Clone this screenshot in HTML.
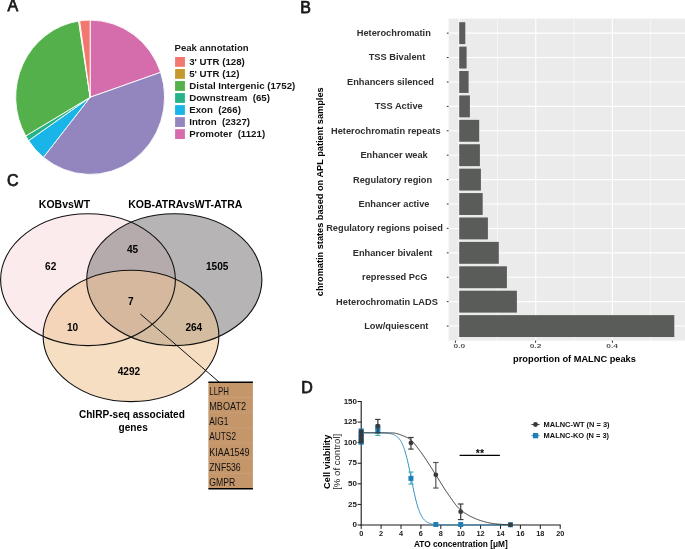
<!DOCTYPE html>
<html><head><meta charset="utf-8"><style>
html,body{margin:0;padding:0;background:#fff;width:685px;height:549px;overflow:hidden}
svg{display:block;will-change:transform}
text{font-family:"Liberation Sans",sans-serif}
</style></head><body>
<svg width="685" height="549" viewBox="0 0 685 549">
<text x="7.5" y="11.3" font-size="16" fill="#1a1a1a" stroke="#1a1a1a" stroke-width="0.75">A</text>
<text x="300.3" y="12.7" font-size="16" fill="#1a1a1a" stroke="#1a1a1a" stroke-width="0.75">B</text>
<text x="6.9" y="186.0" font-size="16" fill="#1a1a1a" stroke="#1a1a1a" stroke-width="0.75">C</text>
<text x="301.2" y="392.8" font-size="16" fill="#1a1a1a" stroke="#1a1a1a" stroke-width="0.75">D</text>
<g transform="translate(90.15,97.25) scale(74.45,77.15)">
<path d="M0 0 L0.00000 -1.00000 A1 1 0 0 1 0.94644 -0.32289 Z" fill="#D56CAB" stroke="#fff" stroke-width="0.9" vector-effect="non-scaling-stroke" stroke-linejoin="round"/>
<path d="M0 0 L0.94644 -0.32289 A1 1 0 0 1 -0.62772 0.77844 Z" fill="#9386BF" stroke="#fff" stroke-width="0.9" vector-effect="non-scaling-stroke" stroke-linejoin="round"/>
<path d="M0 0 L-0.62772 0.77844 A1 1 0 0 1 -0.82677 0.56255 Z" fill="#19B4E8" stroke="#fff" stroke-width="0.9" vector-effect="non-scaling-stroke" stroke-linejoin="round"/>
<path d="M0 0 L-0.82677 0.56255 A1 1 0 0 1 -0.86510 0.50160 Z" fill="#27B38A" stroke="#fff" stroke-width="0.9" vector-effect="non-scaling-stroke" stroke-linejoin="round"/>
<path d="M0 0 L-0.86510 0.50160 A1 1 0 0 1 -0.15449 -0.98799 Z" fill="#53B04A" stroke="#fff" stroke-width="0.9" vector-effect="non-scaling-stroke" stroke-linejoin="round"/>
<path d="M0 0 L-0.15449 -0.98799 A1 1 0 0 1 -0.14134 -0.98996 Z" fill="#C49A2E" stroke="#fff" stroke-width="0.9" vector-effect="non-scaling-stroke" stroke-linejoin="round"/>
<path d="M0 0 L-0.14134 -0.98996 A1 1 0 0 1 0.00000 -1.00000 Z" fill="#F2776E" stroke="#fff" stroke-width="0.9" vector-effect="non-scaling-stroke" stroke-linejoin="round"/>
</g>
<text x="174.5" y="51.3" font-size="9.6" font-weight="bold" fill="#1a1a1a">Peak annotation</text>
<rect x="175.1" y="57.00" width="9.8" height="9.8" fill="#F2776E"/>
<text x="189.2" y="65.10" font-size="9.7" font-weight="bold" fill="#141414">3' UTR (128)</text>
<rect x="175.1" y="69.03" width="9.8" height="9.8" fill="#C49A2E"/>
<text x="189.2" y="77.13" font-size="9.7" font-weight="bold" fill="#141414">5' UTR (12)</text>
<rect x="175.1" y="81.06" width="9.8" height="9.8" fill="#53B04A"/>
<text x="189.2" y="89.16" font-size="9.7" font-weight="bold" fill="#141414">Distal Intergenic (1752)</text>
<rect x="175.1" y="93.09" width="9.8" height="9.8" fill="#27B38A"/>
<text x="189.2" y="101.19" font-size="9.7" font-weight="bold" fill="#141414">Downstream&#160; (65)</text>
<rect x="175.1" y="105.12" width="9.8" height="9.8" fill="#19B4E8"/>
<text x="189.2" y="113.22" font-size="9.7" font-weight="bold" fill="#141414">Exon&#160; (266)</text>
<rect x="175.1" y="117.15" width="9.8" height="9.8" fill="#9386BF"/>
<text x="189.2" y="125.25" font-size="9.7" font-weight="bold" fill="#141414">Intron&#160; (2327)</text>
<rect x="175.1" y="129.18" width="9.8" height="9.8" fill="#D56CAB"/>
<text x="189.2" y="137.28" font-size="9.7" font-weight="bold" fill="#141414">Promoter&#160; (1121)</text>
<rect x="448.6" y="18.6" width="236.39999999999998" height="322.0" fill="#EBEBEB"/>
<line x1="497.48" y1="18.6" x2="497.48" y2="340.6" stroke="#fff" stroke-width="0.55"/>
<line x1="574.04" y1="18.6" x2="574.04" y2="340.6" stroke="#fff" stroke-width="0.55"/>
<line x1="650.60" y1="18.6" x2="650.60" y2="340.6" stroke="#fff" stroke-width="0.55"/>
<line x1="459.20" y1="18.6" x2="459.20" y2="340.6" stroke="#fff" stroke-width="1.1"/>
<line x1="535.76" y1="18.6" x2="535.76" y2="340.6" stroke="#fff" stroke-width="1.1"/>
<line x1="612.32" y1="18.6" x2="612.32" y2="340.6" stroke="#fff" stroke-width="1.1"/>
<line x1="448.6" y1="33.15" x2="685" y2="33.15" stroke="#fff" stroke-width="1.1"/>
<line x1="448.6" y1="57.56" x2="685" y2="57.56" stroke="#fff" stroke-width="1.1"/>
<line x1="448.6" y1="81.97" x2="685" y2="81.97" stroke="#fff" stroke-width="1.1"/>
<line x1="448.6" y1="106.38" x2="685" y2="106.38" stroke="#fff" stroke-width="1.1"/>
<line x1="448.6" y1="130.79" x2="685" y2="130.79" stroke="#fff" stroke-width="1.1"/>
<line x1="448.6" y1="155.20" x2="685" y2="155.20" stroke="#fff" stroke-width="1.1"/>
<line x1="448.6" y1="179.61" x2="685" y2="179.61" stroke="#fff" stroke-width="1.1"/>
<line x1="448.6" y1="204.02" x2="685" y2="204.02" stroke="#fff" stroke-width="1.1"/>
<line x1="448.6" y1="228.43" x2="685" y2="228.43" stroke="#fff" stroke-width="1.1"/>
<line x1="448.6" y1="252.84" x2="685" y2="252.84" stroke="#fff" stroke-width="1.1"/>
<line x1="448.6" y1="277.25" x2="685" y2="277.25" stroke="#fff" stroke-width="1.1"/>
<line x1="448.6" y1="301.66" x2="685" y2="301.66" stroke="#fff" stroke-width="1.1"/>
<line x1="448.6" y1="326.07" x2="685" y2="326.07" stroke="#fff" stroke-width="1.1"/>
<rect x="459.2" y="22.20" width="6.10" height="21.9" fill="#5A5C5A"/>
<line x1="446.8" y1="33.15" x2="448.6" y2="33.15" stroke="#333" stroke-width="1"/>
<text x="393.8" y="36.05" font-size="9.25" font-weight="bold" fill="#2e2e2e" text-anchor="middle">Heterochromatin</text>
<rect x="459.2" y="46.61" width="7.40" height="21.9" fill="#5A5C5A"/>
<line x1="446.8" y1="57.56" x2="448.6" y2="57.56" stroke="#333" stroke-width="1"/>
<text x="397.0" y="60.46" font-size="9.25" font-weight="bold" fill="#2e2e2e" text-anchor="middle">TSS Bivalent</text>
<rect x="459.2" y="71.02" width="9.40" height="21.9" fill="#5A5C5A"/>
<line x1="446.8" y1="81.97" x2="448.6" y2="81.97" stroke="#333" stroke-width="1"/>
<text x="390.5" y="84.87" font-size="9.25" font-weight="bold" fill="#2e2e2e" text-anchor="middle">Enhancers silenced</text>
<rect x="459.2" y="95.43" width="10.70" height="21.9" fill="#5A5C5A"/>
<line x1="446.8" y1="106.38" x2="448.6" y2="106.38" stroke="#333" stroke-width="1"/>
<text x="398.7" y="109.28" font-size="9.25" font-weight="bold" fill="#2e2e2e" text-anchor="middle">TSS Active</text>
<rect x="459.2" y="119.84" width="20.00" height="21.9" fill="#5A5C5A"/>
<line x1="446.8" y1="130.79" x2="448.6" y2="130.79" stroke="#333" stroke-width="1"/>
<text x="385.8" y="133.69" font-size="9.25" font-weight="bold" fill="#2e2e2e" text-anchor="middle">Heterochromatin repeats</text>
<rect x="459.2" y="144.25" width="20.70" height="21.9" fill="#5A5C5A"/>
<line x1="446.8" y1="155.20" x2="448.6" y2="155.20" stroke="#333" stroke-width="1"/>
<text x="394.1" y="158.10" font-size="9.25" font-weight="bold" fill="#2e2e2e" text-anchor="middle">Enhancer weak</text>
<rect x="459.2" y="168.66" width="21.70" height="21.9" fill="#5A5C5A"/>
<line x1="446.8" y1="179.61" x2="448.6" y2="179.61" stroke="#333" stroke-width="1"/>
<text x="392.6" y="182.51" font-size="9.25" font-weight="bold" fill="#2e2e2e" text-anchor="middle">Regulatory region</text>
<rect x="459.2" y="193.07" width="23.50" height="21.9" fill="#5A5C5A"/>
<line x1="446.8" y1="204.02" x2="448.6" y2="204.02" stroke="#333" stroke-width="1"/>
<text x="394.0" y="206.92" font-size="9.25" font-weight="bold" fill="#2e2e2e" text-anchor="middle">Enhancer active</text>
<rect x="459.2" y="217.48" width="28.70" height="21.9" fill="#5A5C5A"/>
<line x1="446.8" y1="228.43" x2="448.6" y2="228.43" stroke="#333" stroke-width="1"/>
<text x="384.5" y="231.33" font-size="9.25" font-weight="bold" fill="#2e2e2e" text-anchor="middle">Regulatory regions poised</text>
<rect x="459.2" y="241.89" width="39.60" height="21.9" fill="#5A5C5A"/>
<line x1="446.8" y1="252.84" x2="448.6" y2="252.84" stroke="#333" stroke-width="1"/>
<text x="392.6" y="255.74" font-size="9.25" font-weight="bold" fill="#2e2e2e" text-anchor="middle">Enhancer bivalent</text>
<rect x="459.2" y="266.30" width="47.70" height="21.9" fill="#5A5C5A"/>
<line x1="446.8" y1="277.25" x2="448.6" y2="277.25" stroke="#333" stroke-width="1"/>
<text x="394.7" y="280.15" font-size="9.25" font-weight="bold" fill="#2e2e2e" text-anchor="middle">repressed PcG</text>
<rect x="459.2" y="290.71" width="57.70" height="21.9" fill="#5A5C5A"/>
<line x1="446.8" y1="301.66" x2="448.6" y2="301.66" stroke="#333" stroke-width="1"/>
<text x="387.0" y="304.56" font-size="9.25" font-weight="bold" fill="#2e2e2e" text-anchor="middle">Heterochromatin LADS</text>
<rect x="459.2" y="315.12" width="215.10" height="21.9" fill="#5A5C5A"/>
<line x1="446.8" y1="326.07" x2="448.6" y2="326.07" stroke="#333" stroke-width="1"/>
<text x="396.3" y="328.97" font-size="9.25" font-weight="bold" fill="#2e2e2e" text-anchor="middle">Low/quiescent</text>
<line x1="455.4" y1="340.6" x2="455.4" y2="342.8" stroke="#333" stroke-width="1"/>
<text transform="translate(459.3,347.9) scale(1.5,1)" x="0" y="0" font-size="5.6" font-weight="bold" fill="#555" text-anchor="middle">0.0</text>
<line x1="535.6" y1="340.6" x2="535.6" y2="342.8" stroke="#333" stroke-width="1"/>
<text transform="translate(535.5,347.9) scale(1.5,1)" x="0" y="0" font-size="5.6" font-weight="bold" fill="#555" text-anchor="middle">0.2</text>
<line x1="612.4" y1="340.6" x2="612.4" y2="342.8" stroke="#333" stroke-width="1"/>
<text transform="translate(612.2,347.9) scale(1.5,1)" x="0" y="0" font-size="5.6" font-weight="bold" fill="#555" text-anchor="middle">0.4</text>
<text x="574.5" y="361.7" font-size="9.25" font-weight="bold" fill="#000" text-anchor="middle">proportion of MALNC peaks</text>
<text transform="translate(323.4,191.8) rotate(-90)" x="0" y="0" font-size="9.2" font-weight="bold" fill="#000" text-anchor="middle">chromatin states based on APL patient samples</text>
<ellipse cx="88" cy="279.7" rx="87.4" ry="65.9" fill="#FCEBEC"/>
<ellipse cx="174.3" cy="279.7" rx="87.6" ry="65.9" fill="rgb(109,105,107)" fill-opacity="0.5"/>
<ellipse cx="131" cy="335.9" rx="87.9" ry="65.7" fill="rgb(239,195,146)" fill-opacity="0.55"/>
<ellipse cx="88" cy="279.7" rx="87.4" ry="65.9" fill="none" stroke="#111" stroke-width="1.1"/>
<ellipse cx="174.3" cy="279.7" rx="87.6" ry="65.9" fill="none" stroke="#111" stroke-width="1.1"/>
<ellipse cx="131" cy="335.9" rx="87.9" ry="65.7" fill="none" stroke="#111" stroke-width="1.1"/>
<text x="64.5" y="207.7" font-size="10.5" font-weight="bold" fill="#000" text-anchor="middle">KOBvsWT</text>
<text x="185.3" y="207.7" font-size="10.5" font-weight="bold" fill="#000" text-anchor="middle">KOB-ATRAvsWT-ATRA</text>
<text x="50.7" y="269.9" font-size="10.1" font-weight="bold" fill="#000" text-anchor="middle">62</text>
<text x="132.6" y="252.8" font-size="10.1" font-weight="bold" fill="#000" text-anchor="middle">45</text>
<text x="217.2" y="269.9" font-size="10.1" font-weight="bold" fill="#000" text-anchor="middle">1505</text>
<text x="130.9" y="304.9" font-size="10.1" font-weight="bold" fill="#000" text-anchor="middle">7</text>
<text x="72.6" y="331.3" font-size="10.1" font-weight="bold" fill="#000" text-anchor="middle">10</text>
<text x="193.8" y="331.3" font-size="10.1" font-weight="bold" fill="#000" text-anchor="middle">264</text>
<text x="128.9" y="375.1" font-size="10.1" font-weight="bold" fill="#000" text-anchor="middle">4292</text>
<text x="131.9" y="417.8" font-size="10.1" font-weight="bold" fill="#000" text-anchor="middle">ChIRP-seq associated</text>
<text x="133.2" y="430.6" font-size="10.1" font-weight="bold" fill="#000" text-anchor="middle">genes</text>
<line x1="140.4" y1="314" x2="219" y2="382" stroke="#111" stroke-width="1.0"/>
<rect x="208.4" y="382" width="44.5" height="107" fill="#C4966A"/>
<line x1="208.4" y1="397.55" x2="252.9" y2="397.55" stroke="#CCA27A" stroke-width="0.8"/>
<line x1="208.4" y1="412.70" x2="252.9" y2="412.70" stroke="#CCA27A" stroke-width="0.8"/>
<line x1="208.4" y1="427.85" x2="252.9" y2="427.85" stroke="#CCA27A" stroke-width="0.8"/>
<line x1="208.4" y1="443.00" x2="252.9" y2="443.00" stroke="#CCA27A" stroke-width="0.8"/>
<line x1="208.4" y1="458.15" x2="252.9" y2="458.15" stroke="#CCA27A" stroke-width="0.8"/>
<line x1="208.4" y1="473.30" x2="252.9" y2="473.30" stroke="#CCA27A" stroke-width="0.8"/>
<line x1="208.4" y1="382.2" x2="252.9" y2="382.2" stroke="#000" stroke-width="1.6"/>
<line x1="208.4" y1="488.8" x2="252.9" y2="488.8" stroke="#000" stroke-width="1.6"/>
<text x="209.3" y="394.80" font-size="10.4" fill="#111" textLength="19.6" lengthAdjust="spacingAndGlyphs">LLPH</text>
<text x="209.3" y="409.98" font-size="10.4" fill="#111" textLength="36.7" lengthAdjust="spacingAndGlyphs">MBOAT2</text>
<text x="209.3" y="425.16" font-size="10.4" fill="#111" textLength="19.0" lengthAdjust="spacingAndGlyphs">AIG1</text>
<text x="209.3" y="440.34" font-size="10.4" fill="#111" textLength="26.7" lengthAdjust="spacingAndGlyphs">AUTS2</text>
<text x="209.3" y="455.52" font-size="10.4" fill="#111" textLength="40.2" lengthAdjust="spacingAndGlyphs">KIAA1549</text>
<text x="209.3" y="470.70" font-size="10.4" fill="#111" textLength="31.4" lengthAdjust="spacingAndGlyphs">ZNF536</text>
<text x="209.3" y="485.88" font-size="10.4" fill="#111" textLength="26.0" lengthAdjust="spacingAndGlyphs">GMPR</text>
<line x1="361.2" y1="401.00" x2="361.2" y2="525.6" stroke="#1a1a1a" stroke-width="1.1"/>
<line x1="360.7" y1="525.0" x2="560.70" y2="525.0" stroke="#1a1a1a" stroke-width="1.2"/>
<line x1="357.60" y1="525.00" x2="361.2" y2="525.00" stroke="#1a1a1a" stroke-width="1.0"/>
<text x="357.0" y="527.20" font-size="8" font-weight="bold" fill="#1a1a1a" text-anchor="end">0</text>
<line x1="357.60" y1="504.42" x2="361.2" y2="504.42" stroke="#1a1a1a" stroke-width="1.0"/>
<text x="357.0" y="506.62" font-size="8" font-weight="bold" fill="#1a1a1a" text-anchor="end">25</text>
<line x1="357.60" y1="483.83" x2="361.2" y2="483.83" stroke="#1a1a1a" stroke-width="1.0"/>
<text x="357.0" y="486.03" font-size="8" font-weight="bold" fill="#1a1a1a" text-anchor="end">50</text>
<line x1="357.60" y1="463.25" x2="361.2" y2="463.25" stroke="#1a1a1a" stroke-width="1.0"/>
<text x="357.0" y="465.45" font-size="8" font-weight="bold" fill="#1a1a1a" text-anchor="end">75</text>
<line x1="357.60" y1="442.67" x2="361.2" y2="442.67" stroke="#1a1a1a" stroke-width="1.0"/>
<text x="357.0" y="444.87" font-size="8" font-weight="bold" fill="#1a1a1a" text-anchor="end">100</text>
<line x1="357.60" y1="422.09" x2="361.2" y2="422.09" stroke="#1a1a1a" stroke-width="1.0"/>
<text x="357.0" y="424.29" font-size="8" font-weight="bold" fill="#1a1a1a" text-anchor="end">125</text>
<line x1="357.60" y1="401.50" x2="361.2" y2="401.50" stroke="#1a1a1a" stroke-width="1.0"/>
<text x="357.0" y="403.70" font-size="8" font-weight="bold" fill="#1a1a1a" text-anchor="end">150</text>
<line x1="361.20" y1="525.0" x2="361.20" y2="528.9" stroke="#1a1a1a" stroke-width="1.0"/>
<text x="361.20" y="535.9" font-size="7.3" font-weight="bold" fill="#1a1a1a" text-anchor="middle">0</text>
<line x1="381.10" y1="525.0" x2="381.10" y2="528.9" stroke="#1a1a1a" stroke-width="1.0"/>
<text x="381.10" y="535.9" font-size="7.3" font-weight="bold" fill="#1a1a1a" text-anchor="middle">2</text>
<line x1="401.00" y1="525.0" x2="401.00" y2="528.9" stroke="#1a1a1a" stroke-width="1.0"/>
<text x="401.00" y="535.9" font-size="7.3" font-weight="bold" fill="#1a1a1a" text-anchor="middle">4</text>
<line x1="420.90" y1="525.0" x2="420.90" y2="528.9" stroke="#1a1a1a" stroke-width="1.0"/>
<text x="420.90" y="535.9" font-size="7.3" font-weight="bold" fill="#1a1a1a" text-anchor="middle">6</text>
<line x1="440.80" y1="525.0" x2="440.80" y2="528.9" stroke="#1a1a1a" stroke-width="1.0"/>
<text x="440.80" y="535.9" font-size="7.3" font-weight="bold" fill="#1a1a1a" text-anchor="middle">8</text>
<line x1="460.70" y1="525.0" x2="460.70" y2="528.9" stroke="#1a1a1a" stroke-width="1.0"/>
<text x="460.70" y="535.9" font-size="7.3" font-weight="bold" fill="#1a1a1a" text-anchor="middle">10</text>
<line x1="480.60" y1="525.0" x2="480.60" y2="528.9" stroke="#1a1a1a" stroke-width="1.0"/>
<text x="480.60" y="535.9" font-size="7.3" font-weight="bold" fill="#1a1a1a" text-anchor="middle">12</text>
<line x1="500.50" y1="525.0" x2="500.50" y2="528.9" stroke="#1a1a1a" stroke-width="1.0"/>
<text x="500.50" y="535.9" font-size="7.3" font-weight="bold" fill="#1a1a1a" text-anchor="middle">14</text>
<line x1="520.40" y1="525.0" x2="520.40" y2="528.9" stroke="#1a1a1a" stroke-width="1.0"/>
<text x="520.40" y="535.9" font-size="7.3" font-weight="bold" fill="#1a1a1a" text-anchor="middle">16</text>
<line x1="540.30" y1="525.0" x2="540.30" y2="528.9" stroke="#1a1a1a" stroke-width="1.0"/>
<text x="540.30" y="535.9" font-size="7.3" font-weight="bold" fill="#1a1a1a" text-anchor="middle">18</text>
<line x1="560.20" y1="525.0" x2="560.20" y2="528.9" stroke="#1a1a1a" stroke-width="1.0"/>
<text x="560.20" y="535.9" font-size="7.3" font-weight="bold" fill="#1a1a1a" text-anchor="middle">20</text>
<text x="460.8" y="547.3" font-size="8.3" font-weight="bold" fill="#000" text-anchor="middle">ATO concentration [μM]</text>
<text transform="translate(329.6,461.8) rotate(-90)" font-size="9.3" font-weight="bold" fill="#000" text-anchor="middle">Cell viability</text>
<text transform="translate(339.6,461.8) rotate(-90)" font-size="9.6" fill="#222" text-anchor="middle">[% of control]</text>
<path d="M361.20,432.79 L361.57,432.79 L361.95,432.79 L362.32,432.79 L362.69,432.79 L363.07,432.79 L363.44,432.79 L363.81,432.79 L364.19,432.79 L364.56,432.79 L364.93,432.79 L365.30,432.79 L365.68,432.79 L366.05,432.80 L366.42,432.80 L366.80,432.80 L367.17,432.80 L367.54,432.80 L367.92,432.80 L368.29,432.80 L368.66,432.80 L369.04,432.80 L369.41,432.80 L369.78,432.80 L370.15,432.80 L370.53,432.80 L370.90,432.80 L371.27,432.80 L371.65,432.81 L372.02,432.81 L372.39,432.81 L372.77,432.81 L373.14,432.81 L373.51,432.81 L373.89,432.82 L374.26,432.82 L374.63,432.82 L375.01,432.82 L375.38,432.83 L375.75,432.83 L376.12,432.83 L376.50,432.84 L376.87,432.84 L377.24,432.84 L377.62,432.85 L377.99,432.85 L378.36,432.86 L378.74,432.86 L379.11,432.87 L379.48,432.88 L379.86,432.89 L380.23,432.89 L380.60,432.90 L380.98,432.91 L381.35,432.92 L381.72,432.93 L382.09,432.94 L382.47,432.96 L382.84,432.97 L383.21,432.99 L383.59,433.00 L383.96,433.02 L384.33,433.04 L384.71,433.06 L385.08,433.09 L385.45,433.11 L385.83,433.14 L386.20,433.17 L386.57,433.20 L386.95,433.23 L387.32,433.27 L387.69,433.31 L388.06,433.36 L388.44,433.40 L388.81,433.46 L389.18,433.51 L389.56,433.57 L389.93,433.64 L390.30,433.71 L390.68,433.79 L391.05,433.87 L391.42,433.96 L391.80,434.06 L392.17,434.17 L392.54,434.28 L392.92,434.41 L393.29,434.54 L393.66,434.69 L394.03,434.84 L394.41,435.01 L394.78,435.20 L395.15,435.40 L395.53,435.61 L395.90,435.84 L396.27,436.09 L396.65,436.36 L397.02,436.65 L397.39,436.96 L397.77,437.30 L398.14,437.66 L398.51,438.05 L398.89,438.47 L399.26,438.92 L399.63,439.41 L400.00,439.93 L400.38,440.48 L400.75,441.08 L401.12,441.71 L401.50,442.39 L401.87,443.12 L402.24,443.89 L402.62,444.71 L402.99,445.58 L403.36,446.51 L403.74,447.48 L404.11,448.52 L404.48,449.61 L404.86,450.76 L405.23,451.97 L405.60,453.24 L405.97,454.57 L406.35,455.95 L406.72,457.39 L407.09,458.89 L407.47,460.44 L407.84,462.05 L408.21,463.70 L408.59,465.40 L408.96,467.13 L409.33,468.91 L409.71,470.71 L410.08,472.55 L410.45,474.40 L410.83,476.27 L411.20,478.14 L411.57,480.02 L411.94,481.90 L412.32,483.76 L412.69,485.61 L413.06,487.44 L413.44,489.24 L413.81,491.01 L414.18,492.74 L414.56,494.43 L414.93,496.07 L415.30,497.66 L415.68,499.20 L416.05,500.69 L416.42,502.12 L416.80,503.49 L417.17,504.81 L417.54,506.07 L417.91,507.26 L418.29,508.40 L418.66,509.48 L419.03,510.51 L419.41,511.47 L419.78,512.39 L420.15,513.25 L420.53,514.06 L420.90,514.82 L421.27,515.54 L421.65,516.21 L422.02,516.84 L422.39,517.42 L422.77,517.97 L423.14,518.48 L423.51,518.96 L423.88,519.40 L424.26,519.82 L424.63,520.20 L425.00,520.56 L425.38,520.89 L425.75,521.20 L426.12,521.49 L426.50,521.75 L426.87,522.00 L427.24,522.22 L427.62,522.44 L427.99,522.63 L428.36,522.81 L428.74,522.98 L429.11,523.14 L429.48,523.28 L429.86,523.41 L430.23,523.53 L430.60,523.65 L430.97,523.75 L431.35,523.85 L431.72,523.94 L432.09,524.02 L432.47,524.10 L432.84,524.17 L433.21,524.23 L433.59,524.29 L433.96,524.35 L434.33,524.40 L434.71,524.44 L435.08,524.49 L435.45,524.53 L435.82,524.56 L436.20,524.60 L436.57,524.63 L436.94,524.66 L437.32,524.68 L437.69,524.71 L438.06,524.73 L438.44,524.75 L438.81,524.77 L439.18,524.79 L439.56,524.81 L439.93,524.82 L440.30,524.84 L440.68,524.85 L441.05,524.86 L441.42,524.87 L441.79,524.88 L442.17,524.89 L442.54,524.90 L442.91,524.91 L443.29,524.91 L443.66,524.92 L444.03,524.93 L444.41,524.93 L444.78,524.94 L445.15,524.94 L445.53,524.95 L445.90,524.95 L446.27,524.96 L446.65,524.96 L447.02,524.96 L447.39,524.96 L447.76,524.97 L448.14,524.97 L448.51,524.97 L448.88,524.97 L449.26,524.98 L449.63,524.98 L450.00,524.98 L450.38,524.98 L450.75,524.98 L451.12,524.98 L451.50,524.99 L451.87,524.99 L452.24,524.99 L452.62,524.99 L452.99,524.99 L453.36,524.99 L453.74,524.99 L454.11,524.99 L454.48,524.99 L454.85,524.99 L455.23,524.99 L455.60,524.99 L455.97,524.99 L456.35,525.00 L456.72,525.00 L457.09,525.00 L457.47,525.00 L457.84,525.00 L458.21,525.00 L458.59,525.00 L458.96,525.00 L459.33,525.00 L459.70,525.00 L460.08,525.00 L460.45,525.00 L460.82,525.00 L461.20,525.00 L461.57,525.00 L461.94,525.00 L462.32,525.00 L462.69,525.00 L463.06,525.00 L463.44,525.00 L463.81,525.00 L464.18,525.00 L464.56,525.00 L464.93,525.00 L465.30,525.00 L465.67,525.00 L466.05,525.00 L466.42,525.00 L466.79,525.00 L467.17,525.00 L467.54,525.00 L467.91,525.00 L468.29,525.00 L468.66,525.00 L469.03,525.00 L469.41,525.00 L469.78,525.00 L470.15,525.00 L470.53,525.00 L470.90,525.00 L471.27,525.00 L471.64,525.00 L472.02,525.00 L472.39,525.00 L472.76,525.00 L473.14,525.00 L473.51,525.00 L473.88,525.00 L474.26,525.00 L474.63,525.00 L475.00,525.00 L475.38,525.00 L475.75,525.00 L476.12,525.00 L476.50,525.00 L476.87,525.00 L477.24,525.00 L477.61,525.00 L477.99,525.00 L478.36,525.00 L478.73,525.00 L479.11,525.00 L479.48,525.00 L479.85,525.00 L480.23,525.00 L480.60,525.00 L480.97,525.00 L481.35,525.00 L481.72,525.00 L482.09,525.00 L482.47,525.00 L482.84,525.00 L483.21,525.00 L483.58,525.00 L483.96,525.00 L484.33,525.00 L484.70,525.00 L485.08,525.00 L485.45,525.00 L485.82,525.00 L486.20,525.00 L486.57,525.00 L486.94,525.00 L487.32,525.00 L487.69,525.00 L488.06,525.00 L488.44,525.00 L488.81,525.00 L489.18,525.00 L489.55,525.00 L489.93,525.00 L490.30,525.00 L490.67,525.00 L491.05,525.00 L491.42,525.00 L491.79,525.00 L492.17,525.00 L492.54,525.00 L492.91,525.00 L493.29,525.00 L493.66,525.00 L494.03,525.00 L494.41,525.00 L494.78,525.00 L495.15,525.00 L495.52,525.00 L495.90,525.00 L496.27,525.00 L496.64,525.00 L497.02,525.00 L497.39,525.00 L497.76,525.00 L498.14,525.00 L498.51,525.00 L498.88,525.00 L499.26,525.00 L499.63,525.00 L500.00,525.00 L500.38,525.00 L500.75,525.00 L501.12,525.00 L501.50,525.00 L501.87,525.00 L502.24,525.00 L502.61,525.00 L502.99,525.00 L503.36,525.00 L503.73,525.00 L504.11,525.00 L504.48,525.00 L504.85,525.00 L505.23,525.00 L505.60,525.00 L505.97,525.00 L506.35,525.00 L506.72,525.00 L507.09,525.00 L507.46,525.00 L507.84,525.00 L508.21,525.00 L508.58,525.00 L508.96,525.00 L509.33,525.00 L509.70,525.00 L510.08,525.00 L510.45,525.00" fill="none" stroke="#2A8BBF" stroke-width="1.0"/>
<path d="M361.20,432.79 L361.57,432.79 L361.95,432.79 L362.32,432.79 L362.69,432.79 L363.07,432.79 L363.44,432.79 L363.81,432.79 L364.19,432.79 L364.56,432.79 L364.93,432.79 L365.30,432.79 L365.68,432.79 L366.05,432.79 L366.42,432.79 L366.80,432.79 L367.17,432.79 L367.54,432.79 L367.92,432.79 L368.29,432.79 L368.66,432.79 L369.04,432.79 L369.41,432.79 L369.78,432.79 L370.15,432.79 L370.53,432.79 L370.90,432.79 L371.27,432.79 L371.65,432.79 L372.02,432.79 L372.39,432.79 L372.77,432.79 L373.14,432.79 L373.51,432.79 L373.89,432.79 L374.26,432.79 L374.63,432.79 L375.01,432.79 L375.38,432.79 L375.75,432.79 L376.12,432.79 L376.50,432.79 L376.87,432.79 L377.24,432.79 L377.62,432.79 L377.99,432.79 L378.36,432.79 L378.74,432.79 L379.11,432.79 L379.48,432.79 L379.86,432.79 L380.23,432.79 L380.60,432.80 L380.98,432.80 L381.35,432.80 L381.72,432.80 L382.09,432.80 L382.47,432.81 L382.84,432.81 L383.21,432.81 L383.59,432.81 L383.96,432.82 L384.33,432.82 L384.71,432.82 L385.08,432.83 L385.45,432.83 L385.83,432.84 L386.20,432.84 L386.57,432.84 L386.95,432.85 L387.32,432.85 L387.69,432.86 L388.06,432.86 L388.44,432.87 L388.81,432.88 L389.18,432.88 L389.56,432.89 L389.93,432.89 L390.30,432.90 L390.68,432.91 L391.05,432.91 L391.42,432.92 L391.80,432.93 L392.17,432.94 L392.54,432.94 L392.92,432.95 L393.29,432.96 L393.66,432.98 L394.03,433.02 L394.41,433.06 L394.78,433.11 L395.15,433.17 L395.53,433.24 L395.90,433.32 L396.27,433.40 L396.65,433.50 L397.02,433.60 L397.39,433.71 L397.77,433.82 L398.14,433.94 L398.51,434.06 L398.89,434.19 L399.26,434.32 L399.63,434.46 L400.00,434.60 L400.38,434.74 L400.75,434.88 L401.12,435.03 L401.50,435.18 L401.87,435.33 L402.24,435.48 L402.62,435.63 L402.99,435.78 L403.36,435.93 L403.74,436.07 L404.11,436.22 L404.48,436.36 L404.86,436.51 L405.23,436.67 L405.60,436.83 L405.97,436.99 L406.35,437.16 L406.72,437.34 L407.09,437.52 L407.47,437.71 L407.84,437.91 L408.21,438.12 L408.59,438.34 L408.96,438.56 L409.33,438.80 L409.71,439.04 L410.08,439.30 L410.45,439.58 L410.83,439.87 L411.20,440.19 L411.57,440.53 L411.94,440.88 L412.32,441.26 L412.69,441.65 L413.06,442.05 L413.44,442.47 L413.81,442.90 L414.18,443.34 L414.56,443.80 L414.93,444.26 L415.30,444.73 L415.68,445.21 L416.05,445.70 L416.42,446.19 L416.80,446.69 L417.17,447.19 L417.54,447.69 L417.91,448.19 L418.29,448.70 L418.66,449.20 L419.03,449.70 L419.41,450.20 L419.78,450.69 L420.15,451.18 L420.53,451.67 L420.90,452.17 L421.27,452.68 L421.65,453.19 L422.02,453.71 L422.39,454.23 L422.77,454.76 L423.14,455.29 L423.51,455.83 L423.88,456.37 L424.26,456.92 L424.63,457.47 L425.00,458.02 L425.38,458.58 L425.75,459.14 L426.12,459.71 L426.50,460.28 L426.87,460.85 L427.24,461.42 L427.62,462.00 L427.99,462.58 L428.36,463.16 L428.74,463.74 L429.11,464.32 L429.48,464.91 L429.86,465.49 L430.23,466.08 L430.60,466.67 L430.97,467.26 L431.35,467.85 L431.72,468.44 L432.09,469.03 L432.47,469.62 L432.84,470.21 L433.21,470.80 L433.59,471.39 L433.96,471.97 L434.33,472.56 L434.71,473.14 L435.08,473.72 L435.45,474.30 L435.82,474.88 L436.20,475.46 L436.57,476.04 L436.94,476.63 L437.32,477.22 L437.69,477.81 L438.06,478.41 L438.44,479.01 L438.81,479.61 L439.18,480.21 L439.56,480.82 L439.93,481.43 L440.30,482.03 L440.68,482.64 L441.05,483.25 L441.42,483.85 L441.79,484.46 L442.17,485.06 L442.54,485.66 L442.91,486.26 L443.29,486.86 L443.66,487.45 L444.03,488.04 L444.41,488.62 L444.78,489.20 L445.15,489.77 L445.53,490.34 L445.90,490.90 L446.27,491.45 L446.65,492.00 L447.02,492.54 L447.39,493.07 L447.76,493.60 L448.14,494.14 L448.51,494.67 L448.88,495.21 L449.26,495.75 L449.63,496.30 L450.00,496.84 L450.38,497.38 L450.75,497.92 L451.12,498.46 L451.50,499.00 L451.87,499.53 L452.24,500.07 L452.62,500.59 L452.99,501.12 L453.36,501.64 L453.74,502.15 L454.11,502.66 L454.48,503.16 L454.85,503.65 L455.23,504.14 L455.60,504.62 L455.97,505.08 L456.35,505.54 L456.72,505.99 L457.09,506.43 L457.47,506.86 L457.84,507.28 L458.21,507.68 L458.59,508.07 L458.96,508.45 L459.33,508.81 L459.70,509.16 L460.08,509.49 L460.45,509.81 L460.82,510.12 L461.20,510.42 L461.57,510.72 L461.94,511.01 L462.32,511.29 L462.69,511.57 L463.06,511.84 L463.44,512.11 L463.81,512.37 L464.18,512.63 L464.56,512.88 L464.93,513.13 L465.30,513.37 L465.67,513.61 L466.05,513.84 L466.42,514.07 L466.79,514.29 L467.17,514.52 L467.54,514.73 L467.91,514.95 L468.29,515.16 L468.66,515.36 L469.03,515.57 L469.41,515.77 L469.78,515.96 L470.15,516.16 L470.53,516.35 L470.90,516.54 L471.27,516.73 L471.64,516.91 L472.02,517.09 L472.39,517.27 L472.76,517.45 L473.14,517.63 L473.51,517.80 L473.88,517.97 L474.26,518.14 L474.63,518.30 L475.00,518.46 L475.38,518.62 L475.75,518.78 L476.12,518.93 L476.50,519.09 L476.87,519.24 L477.24,519.38 L477.61,519.53 L477.99,519.67 L478.36,519.81 L478.73,519.94 L479.11,520.07 L479.48,520.20 L479.85,520.33 L480.23,520.46 L480.60,520.58 L480.97,520.70 L481.35,520.82 L481.72,520.93 L482.09,521.05 L482.47,521.16 L482.84,521.27 L483.21,521.38 L483.58,521.49 L483.96,521.60 L484.33,521.71 L484.70,521.81 L485.08,521.92 L485.45,522.02 L485.82,522.11 L486.20,522.21 L486.57,522.30 L486.94,522.40 L487.32,522.48 L487.69,522.57 L488.06,522.65 L488.44,522.73 L488.81,522.81 L489.18,522.88 L489.55,522.95 L489.93,523.02 L490.30,523.08 L490.67,523.15 L491.05,523.21 L491.42,523.27 L491.79,523.33 L492.17,523.39 L492.54,523.45 L492.91,523.50 L493.29,523.56 L493.66,523.61 L494.03,523.66 L494.41,523.71 L494.78,523.76 L495.15,523.81 L495.52,523.86 L495.90,523.90 L496.27,523.94 L496.64,523.98 L497.02,524.02 L497.39,524.06 L497.76,524.09 L498.14,524.12 L498.51,524.15 L498.88,524.18 L499.26,524.21 L499.63,524.23 L500.00,524.26 L500.38,524.28 L500.75,524.30 L501.12,524.33 L501.50,524.35 L501.87,524.37 L502.24,524.39 L502.61,524.41 L502.99,524.42 L503.36,524.44 L503.73,524.46 L504.11,524.48 L504.48,524.49 L504.85,524.51 L505.23,524.53 L505.60,524.54 L505.97,524.56 L506.35,524.57 L506.72,524.59 L507.09,524.60 L507.46,524.62 L507.84,524.63 L508.21,524.65 L508.58,524.67 L508.96,524.68 L509.33,524.70 L509.70,524.72 L510.08,524.73 L510.45,524.75" fill="none" stroke="#2a2a2a" stroke-width="1.0"/>
<line x1="377.82" y1="435.42" x2="377.82" y2="427.85" stroke="#2BA5AE" stroke-width="1.0"/>
<line x1="375.22" y1="435.42" x2="380.42" y2="435.42" stroke="#2BA5AE" stroke-width="1.0"/>
<line x1="375.22" y1="427.85" x2="380.42" y2="427.85" stroke="#2BA5AE" stroke-width="1.0"/>
<line x1="410.95" y1="484.08" x2="410.95" y2="472.06" stroke="#2BA5AE" stroke-width="1.0"/>
<line x1="408.35" y1="484.08" x2="413.55" y2="484.08" stroke="#2BA5AE" stroke-width="1.0"/>
<line x1="408.35" y1="472.06" x2="413.55" y2="472.06" stroke="#2BA5AE" stroke-width="1.0"/>
<rect x="358.55" y="428.49" width="5.3" height="5.3" fill="#1F7FB5"/>
<rect x="358.55" y="432.61" width="5.3" height="5.3" fill="#1F7FB5"/>
<rect x="358.55" y="436.32" width="5.3" height="5.3" fill="#1F7FB5"/>
<rect x="358.55" y="439.36" width="5.3" height="5.3" fill="#1F7FB5"/>
<rect x="375.32" y="424.53" width="5.0" height="5.0" fill="#1F7FB5"/>
<rect x="375.32" y="428.40" width="5.0" height="5.0" fill="#1F7FB5"/>
<rect x="408.45" y="475.90" width="5.0" height="5.0" fill="#1F7FB5"/>
<rect x="433.32" y="522.01" width="5.0" height="5.0" fill="#1F7FB5"/>
<rect x="458.20" y="522.01" width="5.0" height="5.0" fill="#1F7FB5"/>
<rect x="507.95" y="522.25" width="5.0" height="5.0" fill="#1F7FB5"/>
<line x1="377.82" y1="432.79" x2="377.82" y2="419.45" stroke="#3a3a3a" stroke-width="1.2"/>
<line x1="375.12" y1="432.79" x2="380.52" y2="432.79" stroke="#3a3a3a" stroke-width="1.2"/>
<line x1="375.12" y1="419.45" x2="380.52" y2="419.45" stroke="#3a3a3a" stroke-width="1.2"/>
<line x1="410.95" y1="449.09" x2="410.95" y2="437.48" stroke="#3a3a3a" stroke-width="1.2"/>
<line x1="408.25" y1="449.09" x2="413.65" y2="449.09" stroke="#3a3a3a" stroke-width="1.2"/>
<line x1="408.25" y1="437.48" x2="413.65" y2="437.48" stroke="#3a3a3a" stroke-width="1.2"/>
<line x1="435.82" y1="488.03" x2="435.82" y2="462.51" stroke="#555" stroke-width="1.2"/>
<line x1="433.12" y1="488.03" x2="438.52" y2="488.03" stroke="#555" stroke-width="1.2"/>
<line x1="433.12" y1="462.51" x2="438.52" y2="462.51" stroke="#555" stroke-width="1.2"/>
<line x1="460.70" y1="519.57" x2="460.70" y2="504.01" stroke="#3a3a3a" stroke-width="1.2"/>
<line x1="457.90" y1="519.57" x2="463.50" y2="519.57" stroke="#3a3a3a" stroke-width="1.2"/>
<line x1="457.90" y1="504.01" x2="463.50" y2="504.01" stroke="#3a3a3a" stroke-width="1.2"/>
<circle cx="361.20" cy="431.72" r="2.4" fill="#3A3A3A"/>
<circle cx="361.20" cy="435.26" r="2.4" fill="#3A3A3A"/>
<circle cx="361.20" cy="438.97" r="2.4" fill="#3A3A3A"/>
<circle cx="361.20" cy="441.44" r="2.4" fill="#3A3A3A"/>
<circle cx="377.82" cy="426.04" r="2.4" fill="#3A3A3A"/>
<circle cx="410.95" cy="442.92" r="2.4" fill="#3A3A3A"/>
<circle cx="435.82" cy="474.86" r="2.4" fill="#3A3A3A"/>
<circle cx="460.70" cy="511.66" r="2.4" fill="#3A3A3A"/>
<circle cx="510.45" cy="524.84" r="2.4" fill="#3A3A3A"/>
<line x1="459.6" y1="455.3" x2="499.9" y2="455.3" stroke="#000" stroke-width="1.2"/>
<text x="479.9" y="456.6" font-size="10.5" font-weight="bold" fill="#000" text-anchor="middle">**</text>
<line x1="531.4" y1="424.5" x2="539.6" y2="424.5" stroke="#333" stroke-width="0.9"/>
<circle cx="535.5" cy="424.5" r="2.4" fill="#3A3A3A"/>
<line x1="531.4" y1="435.6" x2="539.6" y2="435.6" stroke="#2A8BBF" stroke-width="0.9"/>
<rect x="532.9" y="433.0" width="5.3" height="5.3" fill="#1F7FB5"/>
<text x="543.6" y="426.9" font-size="7.45" font-weight="bold" fill="#111">MALNC-WT (N = 3)</text>
<text x="543.6" y="438.0" font-size="7.45" font-weight="bold" fill="#111">MALNC-KO (N = 3)</text>
</svg>
</body></html>
